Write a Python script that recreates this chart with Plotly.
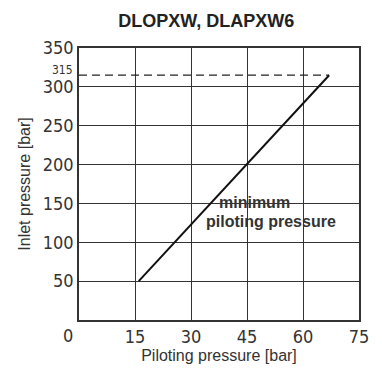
import plotly.graph_objects as go

# Data
curve_x = [16, 67]          # piloting pressure [bar]
curve_y = [50, 315]         # inlet pressure [bar]
limit_y = 315
x_ticks = [15, 30, 45, 60, 75]
y_ticks = [50, 100, 150, 200, 250, 300, 350]

tick_font = dict(family="Liberation Sans Narrow, DejaVu Sans Condensed, Arial", size=18, color="#333")

fig = go.Figure()
fig.add_trace(go.Scatter(x=[0, curve_x[1]], y=[limit_y, limit_y], mode="lines",
                         line=dict(color="#222", width=1.2, dash="8px,5px"), hoverinfo="skip"))
fig.add_trace(go.Scatter(x=curve_x, y=curve_y, mode="lines",
                         line=dict(color="#111", width=2), hoverinfo="skip"))

fig.update_layout(
    width=382, height=371,
    margin=dict(l=79, r=23, t=48, b=43),
    paper_bgcolor="white", plot_bgcolor="white",
    showlegend=False,
    title=dict(text="<b>DLOPXW, DLAPXW6</b>", x=0.54, xanchor="center", y=0.945, yanchor="middle",
               font=dict(family="Liberation Sans, Arial", size=18, color="#222")),
    xaxis=dict(range=[0, 75], tickvals=x_ticks, ticktext=[str(v) for v in x_ticks],
               showgrid=True, gridcolor="#333", gridwidth=1, zeroline=False,
               showline=True, linecolor="#333", linewidth=1.5, mirror=True,
               ticks="", tickfont=tick_font,
               title=dict(text="Piloting pressure [bar]", standoff=0,
                          font=dict(family="Liberation Sans, Arial", size=16, color="#333"))),
    yaxis=dict(range=[0, 350], tickvals=y_ticks, ticktext=[str(v) for v in y_ticks],
               showgrid=True, gridcolor="#333", gridwidth=1, zeroline=False,
               showline=True, linecolor="#333", linewidth=1.5, mirror=True,
               ticks="", tickfont=tick_font,
               title=dict(text="Inlet pressure [bar]", standoff=8,
                          font=dict(family="Liberation Sans, Arial", size=16, color="#333"))),
)

fig.add_annotation(x=0, y=0, xref="x", yref="y", text="0", showarrow=False,
                   xanchor="right", yanchor="top", xshift=-4, yshift=-3, font=tick_font)
fig.add_annotation(x=0, y=limit_y, xref="x", yref="y", text="315", showarrow=False,
                   xanchor="right", yanchor="middle", xshift=-4, yshift=5,
                   font=dict(family=tick_font["family"], size=12, color="#333"))
fig.add_annotation(x=47, y=151, xref="x", yref="y", text="<b>minimum</b>", showarrow=False,
                   xanchor="center", yanchor="middle",
                   font=dict(family="Liberation Sans, Arial", size=16, color="#333"))
fig.add_annotation(x=51.5, y=127, xref="x", yref="y", text="<b>piloting pressure</b>", showarrow=False,
                   xanchor="center", yanchor="middle",
                   font=dict(family="Liberation Sans, Arial", size=16, color="#333"))

fig.write_html("out.html")
